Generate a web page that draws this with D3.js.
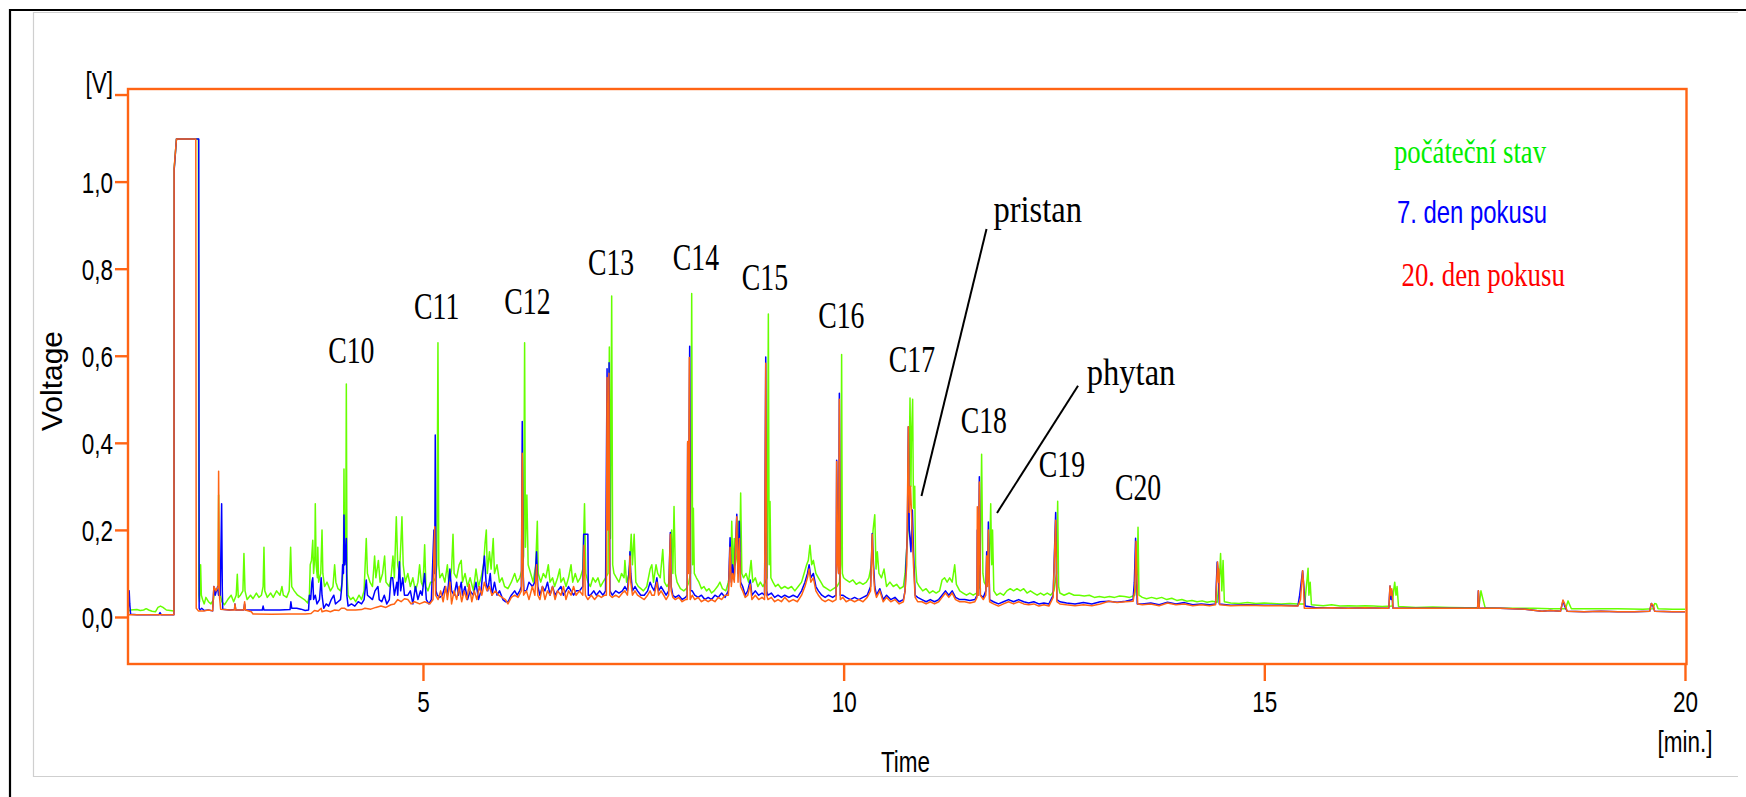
<!DOCTYPE html>
<html>
<head>
<meta charset="utf-8">
<script src="https://cdn.jsdelivr.net/npm/d3@7"></script>
<style>
  html, body { margin: 0; padding: 0; background: #ffffff; }
  svg { display: block; }
</style>
</head>
<body>
<svg id="chart" width="1746" height="797"></svg>
<script>
// ---------------------------------------------------------------
// Gas chromatogram of the extract: three runs overlaid
// (time in minutes, detector signal in volts)
// ---------------------------------------------------------------

const seriesNames = ["počáteční stav", "7. den pokusu", "20. den pokusu"];

const timeTicks = [5, 10, 15, 20];
const voltTicks = [0, 0.2, 0.4, 0.6, 0.8, 1.0, 1.2];
const voltTickLabels = ["0,0", "0,2", "0,4", "0,6", "0,8", "1,0", "[V]"];

// peak annotations: [name, time, voltage] (label anchor in data units)
const peakLabels = [
  ["C10", 4.148, 0.584], ["C11", 5.163, 0.684], ["C12", 6.242, 0.696],
  ["C13", 7.235, 0.786], ["C14", 8.245, 0.797], ["C15", 9.065, 0.751],
  ["C16", 9.972, 0.663], ["C17", 10.812, 0.563], ["C18", 11.666, 0.423],
  ["C19", 12.595, 0.322], ["C20", 13.499, 0.269]
];
// isoprenoids with leader lines: [name, textTime, textVolt, lineFrom(t,v), lineTo(t,v)]
const isoprenoids = [
  ["pristan", 11.780, 0.908, [11.698, 0.891], [10.925, 0.278]],
  ["phytan", 12.890, 0.533, [12.786, 0.531], [11.823, 0.239]]
];

// počáteční stav
const greenTrace = [
[1.494,0.012],[1.52,0.016],[1.60,0.017],[1.64,0.015],[1.68,0.016],[1.71,0.019],[1.74,0.016],[1.78,0.013],[1.82,0.012],[1.85,0.022],[1.88,0.025],[1.91,0.022],[1.95,0.016],[2.04,0.014],
[2.043,1.03],[2.07,1.098],[2.33,1.098],[2.336,0.05],
[2.345,0.035],[2.357,0.12],[2.366,0.05],[2.38,0.04],[2.40,0.03],[2.42,0.045],[2.45,0.035],[2.48,0.03],[2.51,0.04],[2.525,0.065],[2.55,0.06],[2.566,0.07],[2.571,0.28],[2.578,0.09],[2.59,0.05],
[2.61,0.035],[2.64,0.028],[2.68,0.04],[2.72,0.05],[2.75,0.035],[2.78,0.05],[2.793,0.098],[2.805,0.045],[2.83,0.05],[2.86,0.06],[2.872,0.146],[2.885,0.06],[2.91,0.04],[2.95,0.05],[2.98,0.042],[3.02,0.055],[3.05,0.045],[3.08,0.05],[3.10,0.07],[3.11,0.16],[3.12,0.06],[3.15,0.045],[3.19,0.055],[3.22,0.045],[3.26,0.06],[3.30,0.05],[3.324,0.07],[3.34,0.05],[3.38,0.045],[3.41,0.06],[3.427,0.16],[3.44,0.07],[3.47,0.06],[3.51,0.05],[3.55,0.045],[3.59,0.04],[3.63,0.032],[3.65,0.05],[3.66,0.12],[3.675,0.13],[3.69,0.176],[3.70,0.10],[3.715,0.14],[3.72,0.26],[3.73,0.12],[3.745,0.09],[3.75,0.16],[3.76,0.08],[3.785,0.1],[3.80,0.20],[3.81,0.1],[3.83,0.07],[3.86,0.08],[3.90,0.06],[3.93,0.07],[3.95,0.12],[3.965,0.08],[3.99,0.065],[4.02,0.06],[4.04,0.08],[4.055,0.12],[4.061,0.34],[4.07,0.12],[4.082,0.14],[4.089,0.535],[4.097,0.1],[4.11,0.05],[4.14,0.04],[4.17,0.045],[4.20,0.035],[4.24,0.05],[4.27,0.04],[4.30,0.06],[4.326,0.18],[4.34,0.1],[4.37,0.08],[4.40,0.07],[4.425,0.14],[4.44,0.09],[4.47,0.13],[4.49,0.08],[4.52,0.10],[4.544,0.14],[4.56,0.08],[4.60,0.07],[4.62,0.09],[4.643,0.14],[4.66,0.09],[4.683,0.23],[4.70,0.12],[4.72,0.10],[4.735,0.16],[4.75,0.23],[4.765,0.12],[4.79,0.08],[4.82,0.10],[4.85,0.07],[4.88,0.09],[4.91,0.06],[4.94,0.08],[4.96,0.12],[4.98,0.08],[5.00,0.07],[5.02,0.166],[5.035,0.07],[5.06,0.06],[5.09,0.08],[5.12,0.08],[5.15,0.09],[5.165,0.12],[5.178,0.63],[5.188,0.12],[5.20,0.09],[5.23,0.1],[5.26,0.08],[5.29,0.12],[5.31,0.07],[5.34,0.11],[5.357,0.19],[5.37,0.1],[5.40,0.09],[5.43,0.12],[5.455,0.13],[5.47,0.08],[5.50,0.10],[5.53,0.07],[5.56,0.09],[5.60,0.06],[5.63,0.11],[5.66,0.07],[5.69,0.09],[5.72,0.12],[5.738,0.17],[5.753,0.20],[5.765,0.1],[5.79,0.15],[5.81,0.11],[5.835,0.18],[5.85,0.1],[5.88,0.12],[5.91,0.08],[5.94,0.09],[5.97,0.07],[6.01,0.065],[6.05,0.08],[6.09,0.10],[6.12,0.08],[6.15,0.09],[6.18,0.11],[6.196,0.14],[6.208,0.63],[6.218,0.16],[6.235,0.28],[6.25,0.12],[6.28,0.1],[6.31,0.08],[6.34,0.12],[6.359,0.22],[6.37,0.1],[6.40,0.08],[6.43,0.1],[6.46,0.09],[6.49,0.12],[6.51,0.08],[6.54,0.09],[6.565,0.07],[6.60,0.09],[6.625,0.11],[6.64,0.08],[6.67,0.09],[6.70,0.07],[6.73,0.09],[6.76,0.12],[6.78,0.08],[6.81,0.1],[6.84,0.08],[6.87,0.09],[6.90,0.11],[6.92,0.26],[6.935,0.1],[6.96,0.08],[6.99,0.07],[7.02,0.09],[7.05,0.08],[7.08,0.09],[7.11,0.07],[7.14,0.08],[7.17,0.09],[7.20,0.1],[7.215,0.62],[7.228,0.18],[7.243,0.737],[7.255,0.12],[7.27,0.1],[7.30,0.09],[7.33,0.08],[7.36,0.1],[7.39,0.09],[7.40,0.13],[7.42,0.08],[7.45,0.10],[7.475,0.19],[7.49,0.12],[7.51,0.19],[7.53,0.08],[7.56,0.07],[7.59,0.065],[7.62,0.06],[7.66,0.07],[7.70,0.11],[7.72,0.12],[7.74,0.08],[7.77,0.12],[7.79,0.1],[7.82,0.09],[7.85,0.155],[7.87,0.08],[7.90,0.07],[7.93,0.08],[7.956,0.2],[7.97,0.1],[7.984,0.254],[8.00,0.1],[8.02,0.08],[8.06,0.065],[8.10,0.06],[8.13,0.065],[8.16,0.08],[8.18,0.1],[8.194,0.743],[8.205,0.12],[8.214,0.25],[8.225,0.1],[8.25,0.09],[8.28,0.08],[8.31,0.065],[8.34,0.07],[8.37,0.06],[8.40,0.065],[8.43,0.055],[8.46,0.06],[8.50,0.07],[8.53,0.08],[8.56,0.065],[8.60,0.06],[8.63,0.08],[8.66,0.12],[8.67,0.22],[8.685,0.1],[8.70,0.18],[8.71,0.12],[8.73,0.14],[8.75,0.22],[8.765,0.15],[8.776,0.285],[8.79,0.1],[8.81,0.09],[8.84,0.1],[8.87,0.08],[8.90,0.13],[8.92,0.08],[8.95,0.09],[8.98,0.07],[9.01,0.08],[9.04,0.07],[9.07,0.08],[9.09,0.09],[9.105,0.696],[9.115,0.12],[9.125,0.265],[9.135,0.09],[9.16,0.08],[9.19,0.07],[9.22,0.075],[9.26,0.065],[9.30,0.07],[9.34,0.065],[9.38,0.07],[9.42,0.06],[9.46,0.07],[9.50,0.08],[9.53,0.10],[9.56,0.12],[9.58,0.13],[9.60,0.165],[9.62,0.12],[9.64,0.13],[9.67,0.10],[9.70,0.09],[9.73,0.08],[9.76,0.07],[9.80,0.065],[9.84,0.06],[9.88,0.065],[9.92,0.07],[9.95,0.08],[9.965,0.12],[9.976,0.603],[9.985,0.1],[10.0,0.09],[10.03,0.085],[10.07,0.08],[10.11,0.085],[10.15,0.075],[10.19,0.08],[10.23,0.075],[10.27,0.08],[10.30,0.09],[10.33,0.12],[10.35,0.2],[10.37,0.235],[10.385,0.11],[10.40,0.15],[10.42,0.1],[10.45,0.09],[10.48,0.11],[10.51,0.07],[10.55,0.08],[10.59,0.07],[10.63,0.075],[10.67,0.065],[10.71,0.07],[10.73,0.10],[10.765,0.2],[10.775,0.3],[10.789,0.503],[10.80,0.3],[10.805,0.4],[10.82,0.5],[10.83,0.25],[10.845,0.30],[10.855,0.12],[10.87,0.08],[10.90,0.07],[10.94,0.06],[10.98,0.065],[11.02,0.055],[11.06,0.06],[11.10,0.055],[11.14,0.06],[11.17,0.085],[11.20,0.09],[11.23,0.08],[11.26,0.09],[11.29,0.08],[11.32,0.12],[11.34,0.075],[11.38,0.06],[11.42,0.055],[11.46,0.05],[11.50,0.055],[11.54,0.05],[11.58,0.055],[11.62,0.07],[11.64,0.374],[11.655,0.1],[11.67,0.08],[11.70,0.07],[11.73,0.1],[11.748,0.26],[11.76,0.12],[11.77,0.2],[11.785,0.06],[11.82,0.05],[11.86,0.055],[11.90,0.05],[11.94,0.06],[11.98,0.065],[12.02,0.06],[12.06,0.065],[12.10,0.06],[12.14,0.065],[12.18,0.055],[12.22,0.06],[12.26,0.055],[12.30,0.05],[12.34,0.055],[12.38,0.05],[12.42,0.055],[12.46,0.05],[12.50,0.06],[12.53,0.1],[12.544,0.266],[12.555,0.07],[12.57,0.055],[12.62,0.05],[12.68,0.055],[12.74,0.05],[12.80,0.05],[12.86,0.048],[12.92,0.05],[12.98,0.045],[13.04,0.047],[13.10,0.045],[13.16,0.047],[13.22,0.045],[13.28,0.048],[13.34,0.047],[13.40,0.045],[13.46,0.05],[13.49,0.1],[13.499,0.206],[13.51,0.05],[13.55,0.045],[13.60,0.042],[13.66,0.045],[13.72,0.042],[13.78,0.045],[13.84,0.04],[13.90,0.043],[13.96,0.038],[14.02,0.04],[14.08,0.036],[14.14,0.038],[14.20,0.035],[14.26,0.037],[14.32,0.034],[14.38,0.036],[14.44,0.034],[14.47,0.1],[14.48,0.146],[14.495,0.06],[14.51,0.13],[14.525,0.035],[14.60,0.032],[14.70,0.031],[14.80,0.033],[14.90,0.031],[15.00,0.032],[15.10,0.031],[15.20,0.03],[15.30,0.031],[15.40,0.03],[15.48,0.03],[15.51,0.09],[15.52,0.112],[15.53,0.05],[15.545,0.08],[15.56,0.028],[15.70,0.026],[15.80,0.028],[15.90,0.025],[16.00,0.026],[16.10,0.025],[16.20,0.026],[16.30,0.025],[16.40,0.024],[16.52,0.025],[16.54,0.065],[16.55,0.08],[16.565,0.05],[16.578,0.07],[16.595,0.024],[16.80,0.022],[17.00,0.023],[17.20,0.022],[17.40,0.021],[17.55,0.021],[17.575,0.06],[17.60,0.04],[17.625,0.021],[17.80,0.02],[18.00,0.02],[18.20,0.02],[18.40,0.019],[18.58,0.019],[18.61,0.037],[18.625,0.03],[18.65,0.019],[18.90,0.019],[19.20,0.019],[19.50,0.018],[19.62,0.019],[19.64,0.031],[19.66,0.03],[19.68,0.019],[19.85,0.018],[20.0,0.018]
];

// 7. den pokusu
const blueTrace = [
[1.494,0.005],[1.50,0.03],[1.508,0.06],[1.515,0.03],[1.525,0.006],[1.60,0.005],[1.86,0.005],[1.875,0.01],[1.89,0.005],[2.04,0.005],
[2.044,1.03],[2.07,1.098],[2.335,1.098],[2.34,0.02],
[2.35,0.016],[2.37,0.02],[2.40,0.015],[2.45,0.016],[2.50,0.014],[2.515,0.07],[2.53,0.05],[2.545,0.06],[2.56,0.07],[2.57,0.05],[2.59,0.05],[2.607,0.26],[2.615,0.06],[2.62,0.018],[2.70,0.016],[2.76,0.017],[2.765,0.03],[2.775,0.016],[2.87,0.016],[2.88,0.03],[2.89,0.016],[3.00,0.016],[3.09,0.016],[3.10,0.025],[3.11,0.016],[3.30,0.016],[3.42,0.017],[3.43,0.035],[3.44,0.02],[3.50,0.02],[3.55,0.018],[3.60,0.015],[3.64,0.016],[3.65,0.05],[3.665,0.04],[3.68,0.08],[3.69,0.09],[3.70,0.04],[3.72,0.05],[3.74,0.03],[3.77,0.04],[3.79,0.09],[3.80,0.05],[3.82,0.02],[3.85,0.03],[3.88,0.025],[3.91,0.04],[3.94,0.05],[3.96,0.03],[3.99,0.035],[4.02,0.04],[4.035,0.07],[4.045,0.12],[4.055,0.1],[4.061,0.234],[4.07,0.12],[4.08,0.15],[4.089,0.18],[4.095,0.05],[4.11,0.025],[4.15,0.03],[4.19,0.025],[4.23,0.035],[4.27,0.03],[4.30,0.04],[4.326,0.085],[4.34,0.05],[4.37,0.045],[4.40,0.04],[4.43,0.06],[4.465,0.07],[4.48,0.04],[4.51,0.035],[4.54,0.05],[4.57,0.03],[4.60,0.04],[4.62,0.09],[4.64,0.09],[4.66,0.05],[4.69,0.08],[4.70,0.05],[4.72,0.127],[4.735,0.06],[4.76,0.09],[4.78,0.05],[4.82,0.05],[4.85,0.06],[4.88,0.03],[4.91,0.07],[4.94,0.04],[4.97,0.06],[4.99,0.05],[5.02,0.10],[5.04,0.04],[5.07,0.03],[5.10,0.04],[5.13,0.2],[5.14,0.1],[5.146,0.418],[5.155,0.06],[5.17,0.05],[5.20,0.045],[5.23,0.05],[5.26,0.07],[5.29,0.05],[5.32,0.11],[5.34,0.06],[5.37,0.05],[5.40,0.08],[5.42,0.05],[5.455,0.08],[5.47,0.05],[5.50,0.07],[5.53,0.04],[5.56,0.06],[5.60,0.05],[5.63,0.08],[5.66,0.04],[5.69,0.06],[5.73,0.14],[5.75,0.08],[5.77,0.06],[5.80,0.1],[5.82,0.05],[5.85,0.08],[5.88,0.05],[5.91,0.06],[5.95,0.04],[5.98,0.035],[6.01,0.035],[6.05,0.05],[6.09,0.06],[6.12,0.05],[6.15,0.06],[6.17,0.07],[6.18,0.449],[6.19,0.1],[6.20,0.06],[6.23,0.06],[6.26,0.08],[6.30,0.07],[6.33,0.08],[6.35,0.15],[6.365,0.07],[6.39,0.05],[6.42,0.07],[6.45,0.06],[6.48,0.08],[6.51,0.05],[6.54,0.07],[6.57,0.05],[6.60,0.06],[6.64,0.07],[6.67,0.05],[6.70,0.06],[6.73,0.07],[6.76,0.06],[6.79,0.05],[6.82,0.06],[6.86,0.06],[6.90,0.07],[6.91,0.19],[6.96,0.19],[6.965,0.05],[6.99,0.05],[7.03,0.06],[7.06,0.05],[7.10,0.06],[7.14,0.05],[7.17,0.06],[7.188,0.57],[7.198,0.25],[7.212,0.584],[7.222,0.06],[7.25,0.05],[7.29,0.06],[7.33,0.055],[7.37,0.06],[7.40,0.07],[7.43,0.06],[7.455,0.12],[7.46,0.15],[7.47,0.1],[7.49,0.06],[7.52,0.07],[7.55,0.06],[7.59,0.05],[7.63,0.05],[7.67,0.06],[7.70,0.08],[7.72,0.07],[7.75,0.06],[7.78,0.09],[7.80,0.06],[7.83,0.07],[7.86,0.06],[7.89,0.05],[7.92,0.06],[7.94,0.194],[7.95,0.07],[7.97,0.05],[8.00,0.045],[8.04,0.05],[8.08,0.04],[8.12,0.045],[8.14,0.05],[8.146,0.40],[8.155,0.15],[8.17,0.622],[8.18,0.06],[8.20,0.06],[8.23,0.05],[8.27,0.045],[8.31,0.05],[8.35,0.04],[8.39,0.045],[8.43,0.04],[8.47,0.05],[8.51,0.045],[8.55,0.055],[8.59,0.045],[8.63,0.06],[8.65,0.182],[8.665,0.08],[8.68,0.12],[8.70,0.09],[8.73,0.236],[8.745,0.1],[8.76,0.22],[8.775,0.08],[8.80,0.07],[8.83,0.05],[8.86,0.06],[8.89,0.085],[8.91,0.05],[8.95,0.06],[8.99,0.05],[9.03,0.055],[9.06,0.05],[9.074,0.597],[9.085,0.06],[9.10,0.05],[9.14,0.055],[9.18,0.045],[9.22,0.05],[9.26,0.045],[9.30,0.05],[9.35,0.045],[9.40,0.05],[9.45,0.045],[9.50,0.06],[9.54,0.08],[9.57,0.1],[9.59,0.12],[9.61,0.09],[9.64,0.1],[9.67,0.07],[9.70,0.06],[9.74,0.05],[9.78,0.045],[9.82,0.05],[9.87,0.045],[9.91,0.05],[9.917,0.36],[9.93,0.15],[9.94,0.1],[9.949,0.514],[9.96,0.05],[9.99,0.05],[10.03,0.045],[10.08,0.04],[10.13,0.045],[10.18,0.04],[10.23,0.045],[10.28,0.05],[10.32,0.07],[10.34,0.192],[10.355,0.12],[10.37,0.07],[10.39,0.05],[10.43,0.065],[10.47,0.04],[10.51,0.05],[10.56,0.04],[10.61,0.045],[10.66,0.035],[10.71,0.04],[10.73,0.06],[10.758,0.2],[10.769,0.437],[10.78,0.2],[10.80,0.15],[10.817,0.246],[10.83,0.15],[10.85,0.05],[10.88,0.045],[10.93,0.04],[10.98,0.035],[11.03,0.04],[11.08,0.035],[11.13,0.04],[11.17,0.05],[11.21,0.06],[11.25,0.05],[11.29,0.06],[11.33,0.045],[11.38,0.04],[11.44,0.04],[11.50,0.038],[11.56,0.04],[11.585,0.05],[11.589,0.2],[11.60,0.05],[11.613,0.322],[11.625,0.05],[11.66,0.045],[11.69,0.06],[11.70,0.15],[11.71,0.08],[11.72,0.218],[11.735,0.04],[11.78,0.035],[11.84,0.03],[11.90,0.035],[11.96,0.04],[12.02,0.035],[12.08,0.04],[12.14,0.035],[12.20,0.032],[12.26,0.035],[12.32,0.03],[12.38,0.032],[12.44,0.03],[12.49,0.05],[12.52,0.24],[12.535,0.04],[12.57,0.035],[12.65,0.032],[12.75,0.03],[12.85,0.033],[12.95,0.03],[13.05,0.035],[13.15,0.036],[13.25,0.034],[13.35,0.036],[13.44,0.04],[13.455,0.08],[13.47,0.181],[13.48,0.1],[13.49,0.03],[13.55,0.03],[13.65,0.032],[13.75,0.028],[13.85,0.034],[13.95,0.03],[14.05,0.033],[14.15,0.028],[14.25,0.03],[14.35,0.028],[14.42,0.03],[14.44,0.126],[14.455,0.1],[14.465,0.03],[14.60,0.027],[14.80,0.028],[15.00,0.027],[15.20,0.027],[15.40,0.026],[15.42,0.05],[15.455,0.106],[15.47,0.07],[15.485,0.025],[15.60,0.022],[15.80,0.021],[16.00,0.02],[16.20,0.021],[16.40,0.02],[16.48,0.02],[16.494,0.071],[16.505,0.04],[16.515,0.06],[16.53,0.02],[16.80,0.02],[17.00,0.02],[17.30,0.02],[17.535,0.02],[17.544,0.06],[17.555,0.02],[17.80,0.02],[18.10,0.018],[18.30,0.013],[18.40,0.015],[18.52,0.013],[18.55,0.037],[18.57,0.025],[18.60,0.013],[18.80,0.012],[19.00,0.013],[19.20,0.012],[19.40,0.012],[19.58,0.013],[19.60,0.031],[19.62,0.025],[19.64,0.013],[19.85,0.012],[20.0,0.012]
];

// 20. den pokusu
const orangeTrace = [
[1.494,0.005],[2.04,0.005],
[2.042,1.03],[2.07,1.098],[2.30,1.098],[2.305,0.02],
[2.33,0.014],[2.40,0.014],[2.45,0.016],[2.50,0.014],[2.515,0.07],[2.54,0.06],[2.555,0.065],[2.565,0.07],[2.571,0.335],[2.58,0.05],[2.595,0.018],[2.70,0.016],[2.76,0.016],[2.765,0.03],[2.775,0.016],[2.87,0.016],[2.88,0.035],[2.89,0.016],[2.96,0.012],[2.98,0.007],[3.20,0.006],[3.40,0.007],[3.60,0.007],[3.67,0.008],[3.71,0.015],[3.75,0.013],[3.79,0.02],[3.80,0.012],[3.85,0.015],[3.90,0.012],[3.95,0.016],[4.00,0.015],[4.03,0.02],[4.07,0.02],[4.10,0.016],[4.20,0.016],[4.27,0.017],[4.31,0.02],[4.38,0.018],[4.44,0.022],[4.50,0.025],[4.56,0.022],[4.62,0.028],[4.66,0.03],[4.70,0.04],[4.74,0.035],[4.78,0.042],[4.82,0.04],[4.86,0.03],[4.90,0.035],[4.96,0.03],[5.02,0.035],[5.08,0.03],[5.12,0.04],[5.13,0.15],[5.14,0.207],[5.15,0.05],[5.18,0.04],[5.21,0.06],[5.24,0.035],[5.27,0.07],[5.29,0.04],[5.32,0.08],[5.34,0.03],[5.37,0.06],[5.40,0.04],[5.43,0.07],[5.46,0.035],[5.49,0.06],[5.52,0.04],[5.55,0.075],[5.58,0.035],[5.61,0.06],[5.64,0.04],[5.67,0.07],[5.70,0.05],[5.73,0.08],[5.76,0.06],[5.79,0.07],[5.82,0.05],[5.86,0.06],[5.90,0.05],[5.94,0.045],[5.98,0.04],[6.01,0.03],[6.05,0.045],[6.09,0.05],[6.13,0.045],[6.17,0.06],[6.18,0.376],[6.188,0.15],[6.196,0.05],[6.23,0.06],[6.26,0.04],[6.30,0.07],[6.33,0.05],[6.35,0.12],[6.365,0.05],[6.39,0.04],[6.42,0.07],[6.45,0.04],[6.48,0.06],[6.51,0.05],[6.54,0.07],[6.57,0.04],[6.60,0.06],[6.64,0.05],[6.67,0.07],[6.70,0.04],[6.73,0.06],[6.76,0.05],[6.79,0.07],[6.82,0.05],[6.86,0.06],[6.90,0.05],[6.915,0.165],[6.93,0.05],[6.96,0.04],[7.00,0.05],[7.04,0.04],[7.08,0.05],[7.12,0.045],[7.16,0.05],[7.18,0.05],[7.188,0.55],[7.198,0.2],[7.21,0.56],[7.22,0.05],[7.25,0.045],[7.29,0.05],[7.33,0.045],[7.37,0.055],[7.40,0.06],[7.43,0.05],[7.455,0.1],[7.46,0.14],[7.47,0.08],[7.49,0.05],[7.52,0.06],[7.55,0.05],[7.59,0.045],[7.63,0.04],[7.67,0.05],[7.70,0.06],[7.72,0.05],[7.75,0.05],[7.78,0.08],[7.80,0.05],[7.83,0.06],[7.86,0.05],[7.89,0.04],[7.92,0.05],[7.94,0.19],[7.95,0.06],[7.97,0.045],[8.00,0.04],[8.04,0.045],[8.08,0.035],[8.12,0.04],[8.14,0.04],[8.146,0.403],[8.155,0.1],[8.166,0.596],[8.176,0.04],[8.20,0.05],[8.23,0.04],[8.27,0.045],[8.31,0.035],[8.35,0.04],[8.39,0.035],[8.43,0.04],[8.47,0.035],[8.51,0.045],[8.55,0.04],[8.59,0.05],[8.63,0.05],[8.65,0.16],[8.665,0.07],[8.68,0.1],[8.70,0.08],[8.73,0.23],[8.745,0.08],[8.76,0.18],[8.775,0.07],[8.80,0.06],[8.83,0.045],[8.86,0.05],[8.89,0.075],[8.91,0.04],[8.95,0.05],[8.99,0.04],[9.03,0.045],[9.06,0.04],[9.074,0.583],[9.085,0.05],[9.10,0.04],[9.14,0.045],[9.18,0.035],[9.22,0.04],[9.26,0.035],[9.30,0.045],[9.35,0.035],[9.40,0.04],[9.45,0.035],[9.50,0.05],[9.54,0.07],[9.57,0.09],[9.59,0.11],[9.61,0.08],[9.64,0.09],[9.67,0.06],[9.70,0.05],[9.74,0.04],[9.78,0.035],[9.82,0.04],[9.87,0.035],[9.91,0.04],[9.917,0.357],[9.93,0.12],[9.94,0.1],[9.949,0.50],[9.96,0.04],[9.99,0.045],[10.03,0.035],[10.08,0.04],[10.13,0.035],[10.18,0.04],[10.23,0.035],[10.28,0.045],[10.32,0.06],[10.34,0.19],[10.355,0.1],[10.37,0.06],[10.39,0.045],[10.43,0.06],[10.47,0.035],[10.51,0.045],[10.56,0.035],[10.61,0.04],[10.66,0.03],[10.71,0.035],[10.73,0.06],[10.75,0.12],[10.769,0.437],[10.78,0.24],[10.795,0.3],[10.81,0.22],[10.83,0.12],[10.85,0.045],[10.88,0.035],[10.93,0.035],[10.98,0.03],[11.03,0.035],[11.08,0.03],[11.13,0.035],[11.17,0.045],[11.21,0.055],[11.25,0.045],[11.29,0.055],[11.33,0.04],[11.38,0.035],[11.44,0.035],[11.50,0.032],[11.56,0.035],[11.585,0.045],[11.589,0.253],[11.60,0.05],[11.613,0.31],[11.625,0.05],[11.66,0.04],[11.69,0.05],[11.70,0.14],[11.71,0.07],[11.72,0.2],[11.735,0.035],[11.78,0.03],[11.84,0.025],[11.90,0.03],[11.96,0.035],[12.02,0.03],[12.08,0.035],[12.14,0.03],[12.20,0.028],[12.26,0.03],[12.32,0.025],[12.38,0.028],[12.44,0.025],[12.49,0.045],[12.52,0.222],[12.535,0.035],[12.57,0.03],[12.65,0.028],[12.75,0.026],[12.85,0.028],[12.95,0.026],[13.05,0.03],[13.15,0.036],[13.25,0.033],[13.35,0.035],[13.44,0.036],[13.46,0.06],[13.475,0.174],[13.485,0.09],[13.495,0.03],[13.55,0.028],[13.65,0.03],[13.75,0.026],[13.85,0.032],[13.95,0.028],[14.05,0.03],[14.15,0.026],[14.25,0.028],[14.35,0.026],[14.42,0.028],[14.445,0.126],[14.455,0.08],[14.46,0.11],[14.47,0.028],[14.60,0.026],[14.80,0.027],[15.00,0.026],[15.20,0.026],[15.40,0.025],[15.43,0.04],[15.455,0.106],[15.465,0.08],[15.475,0.02],[15.60,0.02],[15.80,0.021],[16.00,0.02],[16.20,0.021],[16.40,0.02],[16.48,0.02],[16.494,0.071],[16.505,0.05],[16.515,0.065],[16.53,0.02],[16.80,0.02],[17.00,0.02],[17.30,0.02],[17.535,0.02],[17.545,0.06],[17.555,0.02],[17.80,0.02],[18.10,0.018],[18.30,0.013],[18.40,0.015],[18.52,0.013],[18.55,0.039],[18.57,0.03],[18.60,0.013],[18.80,0.012],[19.00,0.013],[19.20,0.012],[19.40,0.012],[19.58,0.013],[19.60,0.031],[19.62,0.028],[19.64,0.013],[19.85,0.012],[20.0,0.012]
];

const traces = [greenTrace, blueTrace, orangeTrace];

// ---------------------------------------------------------------
// layout and styling
// ---------------------------------------------------------------
const W = 1746, H = 797;
const plot = { left: 128, right: 1686.5, top: 89, bottom: 664 };
const traceColors = ["#66ff00", "#0000ff", "#ff6414"];
const legendColors = ["#00ee00", "#0000ff", "#ff0000"];
const frameColor = "#ff6414";
const SANS = "'Liberation Sans', Arial, Helvetica, sans-serif";
const SERIF = "'Liberation Serif', 'Times New Roman', Times, serif";
const narrow = 0.75;   // horizontal condensation of the lettering

const svg = d3.select("#chart");
svg.append("rect").attr("width", W).attr("height", H).attr("fill", "#ffffff");

// page frame: light grey rules (top, left, bottom), dark rules at top and left
const pageBox = { left: 33.5, top: 12.5, right: 1738, bottom: 776.5 };
svg.append("path")
  .attr("d", `M${pageBox.right},${pageBox.top}H${pageBox.left}V${pageBox.bottom}H${pageBox.right}`)
  .attr("fill", "none").attr("stroke", "#cfcfcf").attr("stroke-width", 1.2);
svg.append("line").attr("x1", 9).attr("y1", 10).attr("x2", W).attr("y2", 10)
  .attr("stroke", "#000").attr("stroke-width", 2.2);
svg.append("line").attr("x1", 10).attr("y1", 9).attr("x2", 10).attr("y2", H)
  .attr("stroke", "#000").attr("stroke-width", 2.2);

const x = d3.scaleLinear().domain([1.494, 20.018]).range([plot.left, plot.right]);
const y = d3.scaleLinear().domain([-0.108, 1.2127]).range([plot.bottom, plot.top]);

function text(parent, str, px, py, opt) {
  return parent.append("text")
    .attr("transform", `translate(${px},${py}) scale(${opt.sx ?? narrow},1)`)
    .attr("text-anchor", opt.anchor || "start")
    .style("font-family", opt.family || SANS)
    .style("font-size", (opt.size || 30) + "px")
    .attr("fill", opt.fill || "#000")
    .text(str);
}

// traces, clipped to the plotting frame
svg.append("clipPath").attr("id", "plotClip")
  .append("rect")
  .attr("x", plot.left).attr("y", plot.top)
  .attr("width", plot.right - plot.left).attr("height", plot.bottom - plot.top);

const line = d3.line().x(d => x(d[0])).y(d => y(d[1])).curve(d3.curveLinear);
const traceLayer = svg.append("g").attr("clip-path", "url(#plotClip)");
traces.forEach((tr, i) => {
  traceLayer.append("path")
    .datum(tr)
    .attr("d", line)
    .attr("fill", "none")
    .attr("stroke", traceColors[i])
    .attr("stroke-width", 1.5)
    .attr("stroke-linejoin", "round");
});

// frame
svg.append("rect")
  .attr("x", plot.left).attr("y", plot.top)
  .attr("width", plot.right - plot.left).attr("height", plot.bottom - plot.top)
  .attr("fill", "none").attr("stroke", frameColor).attr("stroke-width", 2.4);

// y axis
const yAxis = d3.axisLeft(y).tickValues(voltTicks).tickSize(13)
  .tickFormat((d, i) => voltTickLabels[i]);
const gy = svg.append("g").attr("transform", `translate(${plot.left},0)`).call(yAxis);
gy.select(".domain").remove();
gy.selectAll(".tick line").attr("stroke", frameColor).attr("stroke-width", 2.4);
gy.selectAll(".tick text").remove();
gy.selectAll(".tick").each(function (d, i) {
  const isUnit = voltTickLabels[i] === "[V]";
  text(d3.select(this), voltTickLabels[i], -15, isUnit ? -2.5 : 11, { anchor: "end" });
});

// x axis
const xAxis = d3.axisBottom(x).tickValues(timeTicks).tickSize(17);
const gx = svg.append("g").attr("transform", `translate(0,${plot.bottom})`).call(xAxis);
gx.select(".domain").remove();
gx.selectAll(".tick line").attr("stroke", frameColor).attr("stroke-width", 2.4);
gx.selectAll(".tick text").remove();
gx.selectAll(".tick").each(function (d) {
  text(d3.select(this), String(d), 0, 47.5, { anchor: "middle" });
});

// axis titles
text(svg, "Time", 905.5, 771.5, { anchor: "middle" });
text(svg, "[min.]", 1685, 752, { anchor: "middle" });
svg.append("text")
  .attr("transform", "translate(62,381) rotate(-90)")
  .attr("text-anchor", "middle")
  .style("font-family", SANS).style("font-size", "30px")
  .text("Voltage");

// n-alkane peak labels
peakLabels.forEach(([name, t, v]) => {
  text(svg, name, x(t), y(v), { anchor: "middle", family: SERIF, size: 37, sx: 0.75 });
});

// isoprenoid labels with leader lines
isoprenoids.forEach(([name, t, v, from, to]) => {
  svg.append("line")
    .attr("x1", x(from[0])).attr("y1", y(from[1]))
    .attr("x2", x(to[0])).attr("y2", y(to[1]))
    .attr("stroke", "#000").attr("stroke-width", 2);
  text(svg, name, x(t), y(v), { family: SERIF, size: 37, sx: 0.88 });
});

// legend
const legendRows = [
  { x: 1394, y: 163, family: SERIF, size: 33, sx: 0.81 },
  { x: 1397, y: 222.5, family: SANS, size: 31, sx: 0.77 },
  { x: 1401.5, y: 286, family: SERIF, size: 34, sx: 0.79 }
];
seriesNames.forEach((name, i) => {
  const r = legendRows[i];
  text(svg, name, r.x, r.y, { family: r.family, size: r.size, sx: r.sx, fill: legendColors[i] });
});
</script>
</body>
</html>
